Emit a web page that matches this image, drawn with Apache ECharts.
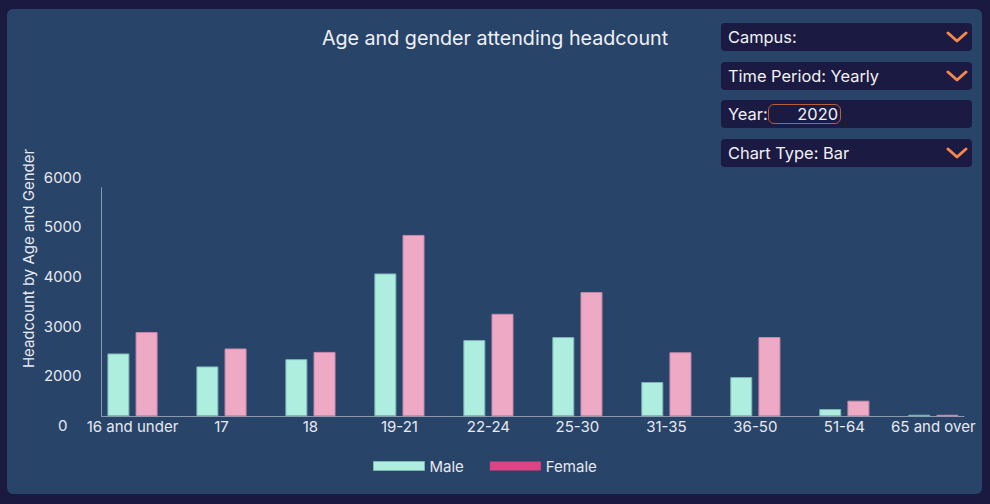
<!DOCTYPE html>
<html><head><meta charset="utf-8">
<script src="https://cdn.jsdelivr.net/npm/echarts@6/dist/echarts.min.js"></script>
<style>
html,body{margin:0;padding:0;width:990px;height:504px;background:#1a1940;overflow:hidden;font-family:Inter,sans-serif;}
#panel{position:absolute;left:7px;top:9px;width:975px;height:485px;background:#284469;border-radius:6px;}
#chart{position:absolute;left:0;top:0;width:990px;height:504px;}
.dd{position:absolute;left:721px;width:251px;height:28px;background:#1b1a42;border-radius:4px;color:#f2f2f5;font-size:16.4px;line-height:28px;box-sizing:border-box;padding-left:7px;white-space:nowrap;}
.chev{position:absolute;right:4px;top:8px;width:22px;height:12px;}
.yr{position:absolute;left:47px;top:4px;width:73px;height:20px;box-sizing:border-box;border:1px solid #b45f3e;border-radius:6px;text-align:right;padding-right:2px;line-height:18px;}
</style></head><body>
<div id="panel"></div>
<div id="chart"></div>
<div class="dd" style="top:23px">Campus:<svg class="chev" viewBox="0 0 22 12"><polyline points="2,2 11,10 20,2" fill="none" stroke="#f5884a" stroke-width="3" stroke-linecap="round" stroke-linejoin="round"/></svg></div>
<div class="dd" style="top:62px">Time Period: Yearly<svg class="chev" viewBox="0 0 22 12"><polyline points="2,2 11,10 20,2" fill="none" stroke="#f5884a" stroke-width="3" stroke-linecap="round" stroke-linejoin="round"/></svg></div>
<div class="dd" style="top:100px">Year:<span class="yr">2020</span></div>
<div class="dd" style="top:139px">Chart Type: Bar<svg class="chev" viewBox="0 0 22 12"><polyline points="2,2 11,10 20,2" fill="none" stroke="#f5884a" stroke-width="3" stroke-linecap="round" stroke-linejoin="round"/></svg></div>
<script>
const categories = ['16 and under','17','18','19-21','22-24','25-30','31-35','36-50','51-64','65 and over'];
const maleValues = [1650, 1310, 1500, 3750, 2000, 2080, 900, 1030, 190, 40];
const femaleValues = [2210, 1780, 1690, 4760, 2690, 3260, 1680, 2080, 410, 40];
const yTickLabels = ['0','2000','3000','4000','5000','6000'];

const FONT = 'Inter';
const TXT = '#e9e9f0';
const chart = echarts.init(document.getElementById('chart'), null, {renderer:'svg', width:990, height:504});
chart.setOption({
  backgroundColor: 'transparent',
  animation: false,
  title: {
    text: 'Age and gender attending headcount',
    left: 495, top: 28, textAlign: 'center', padding: 0,
    textStyle: {color: '#f0f0f4', fontFamily: FONT, fontSize: 19.7, fontWeight: 'normal'}
  },
  legend: {
    left: 373, top: 458.5, padding: 0, itemWidth: 51, itemHeight: 9, itemGap: 26,
    icon: 'rect',
    textStyle: {color: TXT, fontFamily: FONT, fontSize: 15},
    data: [
      {name: 'Male', itemStyle: {color: '#aeeedf', borderColor: '#7fb4b3', borderWidth: 1}},
      {name: 'Female', itemStyle: {color: '#de4383', borderColor: '#de4383', borderWidth: 0}}
    ]
  },
  graphic: [{
    type: 'text', x: 28, y: 258.5, rotation: Math.PI / 2,
    style: {text: 'Headcount by Age and Gender', fill: TXT, font: '15px Inter', align: 'center', verticalAlign: 'middle'}
  }],
  grid: [
    {left: 88, right: 12.2, top: 187.7, bottom: 87.7},
    {left: 101.7, right: 26, top: 187.7, bottom: 87.7},
    {left: 101.7, right: 26, top: 177, bottom: 78.5}
  ],
  xAxis: [
    {gridIndex: 0, type: 'category', data: categories,
     axisLine: {show: false}, axisTick: {show: false},
     axisLabel: {color: TXT, fontFamily: FONT, fontSize: 15, margin: 3, interval: 0}},
    {gridIndex: 1, type: 'value', min: 0, max: 1, axisLine: {show: true, lineStyle: {color: '#8c99ad', width: 1}},
     axisTick: {show: false}, axisLabel: {show: false}, splitLine: {show: false}},
    {gridIndex: 2, type: 'value', min: 0, max: 1, show: false}
  ],
  yAxis: [
    {gridIndex: 0, type: 'value', min: 0, max: 6000, show: false, splitLine: {show: false}},
    {gridIndex: 1, type: 'value', min: 0, max: 1, axisLine: {show: true, lineStyle: {color: '#8c99ad', width: 1}},
     axisTick: {show: false}, axisLabel: {show: false}, splitLine: {show: false}},
    {gridIndex: 2, type: 'category', data: yTickLabels, boundaryGap: false,
     axisLine: {show: false}, axisTick: {show: false}, splitLine: {show: false},
     axisLabel: {color: TXT, fontFamily: FONT, fontSize: 15, margin: 39, align: 'center', interval: 0}}
  ],
  series: [
    {name: 'Male', type: 'bar', xAxisIndex: 0, yAxisIndex: 0, data: maleValues,
     barWidth: 22, barGap: '28%',
     itemStyle: {color: '#aeeedf', borderColor: '#7fb4b3', borderWidth: 1}},
    {name: 'Female', type: 'bar', xAxisIndex: 0, yAxisIndex: 0, data: femaleValues,
     barWidth: 22,
     itemStyle: {color: '#eeaac5', borderColor: '#c98aab', borderWidth: 1}}
  ]
});
</script>
</body></html>
